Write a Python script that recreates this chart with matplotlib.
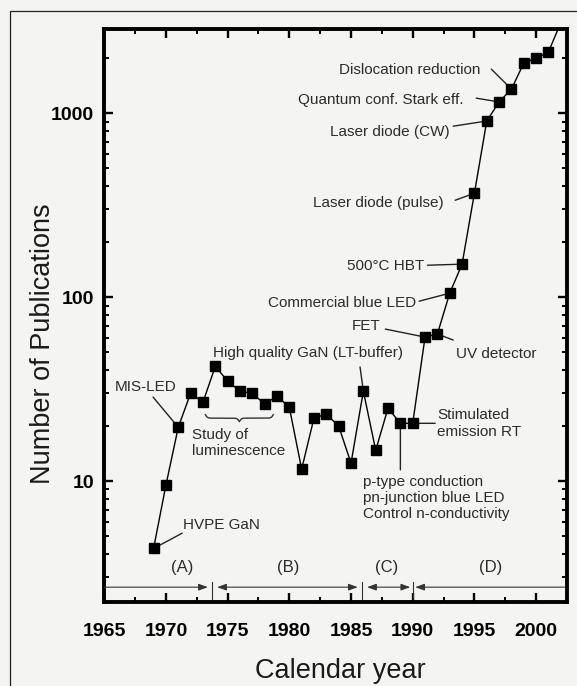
import numpy as np
import matplotlib.pyplot as plt
from matplotlib.patches import Rectangle
from matplotlib.ticker import MultipleLocator, LogLocator, NullFormatter

plt.rcParams['font.family'] = ['Liberation Sans', 'DejaVu Sans']

# publications per year
years = list(range(1969, 2003))
pubs = [4.3, 9.5, 19.6, 30, 26.8, 42, 35, 30.8, 30, 26.2,
        29, 25.2, 11.6, 22, 23.1, 19.9, 12.5, 30.8, 14.7, 24.9,
        20.6, 20.6, 60.6, 63, 105, 151, 367, 906, 1150, 1350,
        1870, 1990, 2150, 3100]

# periods (A)-(D)
period_labels = ['(A)', '(B)', '(C)', '(D)']
period_label_x = [1971.3, 1979.9, 1987.85, 1996.3]
period_spans = [(1965.0, 1973.4), (1974.15, 1985.55), (1986.3, 1989.8), (1990.2, 2002.3)]
period_styles = ['-|>', '<|-|>', '<|-|>', '<|-']
dividers = [1973.75, 1985.9, 1990.0]

# (text, year of point, text position, leader start, alignment)
notes = [
    ('Dislocation reduction', 1998, (1995.47, 1714), (1996.37, 1734), 'right'),
    ('Quantum conf. Stark eff.', 1997, (1994.09, 1178), (1995.15, 1206), 'right'),
    ('Laser diode (CW)', 1996, (1993.03, 789), (1993.28, 849), 'right'),
    ('Laser diode (pulse)', 1995, (1992.47, 324), (1993.44, 336), 'right'),
    ('500°C HBT', 1994, (1990.96, 147), (1991.2, 149), 'right'),
    ('Commercial blue LED', 1993, (1990.28, 92.8), (1990.52, 95), 'right'),
    ('FET', 1991, (1987.37, 69.5), (1987.78, 67), 'right'),
    ('UV detector', 1992, (1993.52, 49), (1993.28, 58.4), 'left'),
    ('High quality GaN (LT-buffer)', 1986, (1973.82, 49.6), (1985.73, 41.7), 'left'),
    ('MIS-LED', 1971, (1965.88, 32.5), (1968.96, 28.6), 'left'),
    ('Stimulated\nemission RT', 1990, (1991.98, 20.6), (1991.82, 20.6), 'left'),
    ('p-type conduction\npn-junction blue LED\nControl n-conductivity', 1989,
     (1985.98, 8.08), (1989.0, 11.5), 'left'),
    ('HVPE GaN', 1969, (1971.4, 5.77), (1971.32, 5.21), 'left'),
]

bg = '#f4f4f2'
txt = '#2b2b2b'

fig = plt.figure(figsize=(5.77, 6.86), dpi=100, facecolor=bg)
ax = fig.add_axes([0.1802, 0.1224, 0.8024, 0.8353])
ax.set_facecolor(bg)

ax.plot(years, pubs, color='black', lw=1.0, marker='s', markersize=7.2,
        markerfacecolor='black', markeredgecolor='black', zorder=4)

ax.set_yscale('log')
ax.set_xlim(1964.98, 2002.5)
ax.set_ylim(2.2, 2865)

ax.set_xticks(range(1965, 2001, 5), labels=[str(y) for y in range(1965, 2001, 5)],
              fontweight='bold')
ax.xaxis.set_minor_locator(MultipleLocator(2.5))
ax.set_yticks([10, 100, 1000], labels=['10', '100', '1000'], fontweight='bold')
ax.yaxis.set_minor_locator(LogLocator(base=10, subs=np.arange(2, 10)))
ax.yaxis.set_minor_formatter(NullFormatter())

ax.tick_params(which='both', direction='in', top=True, right=True, labelsize=14,
               colors='black')
ax.tick_params(which='major', length=6.5, width=1.7)
ax.tick_params(which='minor', length=3.5, width=1.4)
ax.tick_params(axis='x', which='major', pad=15)
ax.tick_params(axis='y', which='major', pad=7)
for s in ax.spines.values():
    s.set_linewidth(2.8)

ax.set_xlabel('Calendar year', fontsize=19.5, color='#1a1a1a')
ax.set_ylabel('Number of Publications', fontsize=19.5, color='#1a1a1a')
ax.xaxis.set_label_coords(0.51, -0.097)
ax.yaxis.set_label_coords(-0.104, 0.451)

# annotations with leader lines
for text, yr, tpos, lstart, ha in notes:
    val = pubs[years.index(yr)]
    ax.annotate('', xy=(yr, val), xytext=lstart,
                arrowprops=dict(arrowstyle='-', color='#222', lw=1.0,
                                shrinkA=0, shrinkB=0), zorder=3)
    ls = 1.3 if text.startswith('Stimulated') else 1.2
    ax.text(tpos[0], tpos[1], text, ha=ha, va='center', fontsize=11,
            color=txt, linespacing=ls)

# study of luminescence with curly brace
ax.text(1972.11, 16.1, 'Study of\nluminescence', ha='left', va='center',
        fontsize=11, color=txt, linespacing=1.2)
bx = np.linspace(1973.2, 1978.7, 201)
half = bx[:101]
yh = 1 / (1 + np.exp(-12 * (half - half[0]))) + 1 / (1 + np.exp(-12 * (half - half[-1])))
yy = np.concatenate([yh, yh[-2::-1]])
ax.plot(bx, 10 ** (1.342 - (yy - 1) * 7 / 184), color='#333', lw=1.0)

# period arrows at the bottom
arrow_y = 2.65
for (x0, x1), st in zip(period_spans, period_styles):
    ax.annotate('', xy=(x1, arrow_y), xytext=(x0, arrow_y),
                arrowprops=dict(arrowstyle=st + ',head_length=0.55,head_width=0.2',
                                color='#333', lw=0.8, shrinkA=0, shrinkB=0,
                                mutation_scale=10))
for d in dividers:
    ax.plot([d, d], [2.2, 2.83], color='#333', lw=0.8)
for lab, lx in zip(period_labels, period_label_x):
    ax.text(lx, 3.37, lab, ha='center', va='center', fontsize=12, color=txt)

# outer frame of the scanned figure
fig.add_artist(Rectangle((10 / 577, -0.05), 1.2, 1 - 11 / 686 + 0.05, fill=False,
                         lw=0.9, edgecolor='#222', transform=fig.transFigure,
                         clip_on=False))

fig.savefig('out.png', dpi=100, facecolor=bg)
